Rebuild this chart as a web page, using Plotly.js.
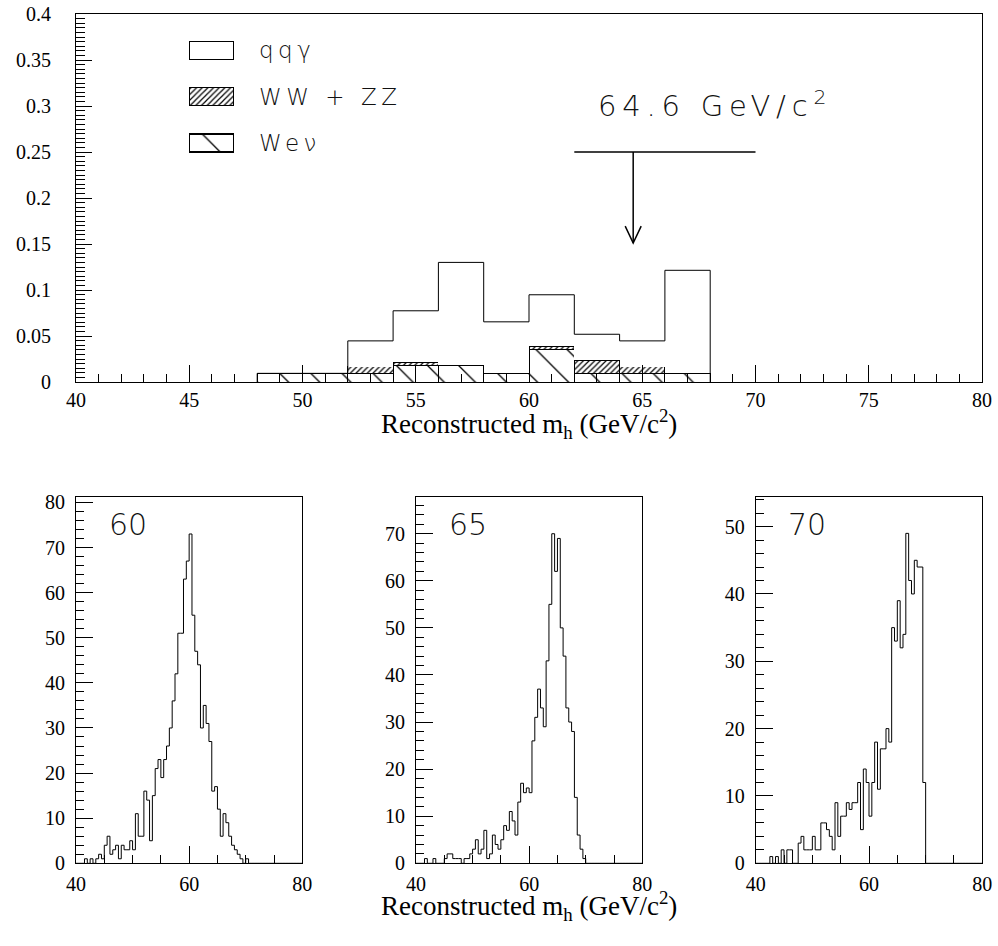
<!DOCTYPE html>
<html><head><meta charset="utf-8">
<script src="https://cdn.plot.ly/plotly-3.0.1.min.js"></script>
<style>
html,body{margin:0;padding:0;background:#fff}
.annotation[data-index="3"] text, .annotation[data-index="4"] text, .annotation[data-index="5"] text{letter-spacing:4.5px}
.annotation[data-index="6"] text{letter-spacing:5.8px}
</style>
</head><body>
<div id="chart" style="width:998px;height:946px"></div>
<script>
// ---------- top histogram (2 GeV/c^2 bins, lower edges) ----------
const topBinLow   = [48, 50, 52, 54, 56, 58, 60, 62, 64, 66];
const topBinWidth = 2;
const qqgamma = [0, 0, 0.028, 0.056, 0.112, 0.056, 0.056, 0.028, 0.028, 0.112];
const wwzz    = [0, 0, 0.0073, 0.0034, 0, 0, 0.004, 0.0145, 0.0073, 0];
const wenu    = [0.0094, 0.0094, 0.0094, 0.018, 0.018, 0.0094, 0.0348, 0.0094, 0.0094, 0.0094];
const seriesNames = ['qqγ', 'WW + ZZ', 'Weν'];
const cutMass = 64.6;
const cutLabel = '64.6 GeV/c<sup>2</sup>';

// ---------- bottom histograms (0.5 GeV/c^2 bins from 40 to 80) ----------
const histLow = 40, histBinWidth = 0.5;
const h60 = [0,0,0,1,0,1,0,1,2,1, 4,6,2,3,4,1,4,3,3,5, 3,11,6,6,16,14,5,15,21,23,
             19,23,26,30,36,42,51,51,63,67, 73,55,47,44,30,35,31,27,16,17,
             12,6,11,9,6,4,3,2,1,0, 1,0,0,0,0,0,0,0,0,0, 0,0,0,0,0,0,0,0,0,0];
const h65 = [0,0,0,1,0,0,1,0,0,0, 1,2,2,1,1,1,0,1,1,2, 3,5,2,3,7,1,2,6,4,3,
             5,8,7,11,9,6,13,17,15,16, 15,26,31,37,33,29,43,55,70,62,
             69,50,44,33,30,28,14,6,3,1, 0,0,0,0,0,0,0,0,0,0, 0,0,0,0,0,0,0,0,0,0];
const h70 = [0,0,0,0,0,1,0,1,0,2, 0,2,2,0,0,3,4,2,2,2, 4,2,2,6,6,5,4,2,9,4,
             7,7,9,8,9,9,12,5,14,12, 7,12,18,11,17,17,20,18,35,33,
             39,32,34,49,42,40,45,44,44,12, 0,0,0,0,0,0,0,0,0,0, 0,0,0,0,0,0,0,0,0,0];
const panelLabels = ['60', '65', '70'];
const panelYMax = [81.2, 77.8, 54.4];
const panelYTicks = [[0,10,20,30,40,50,60,70,80],[0,10,20,30,40,50,60,70],[0,10,20,30,40,50]];
const xTitle = 'Reconstructed m<sub>h</sub> (GeV/c<sup>2</sup>)';

// ---------- build traces ----------
const W = 998, H = 946;
const px = v => v / W, py = v => 1 - v / H;
const centers = topBinLow.map(v => v + topBinWidth / 2);
const widths = topBinLow.map(() => topBinWidth);
const black = '#000';
const wenuPattern = {shape: '\\', fgcolor: black, bgcolor: 'white', size: 22, solidity: 0.06};
const wwPattern   = {shape: '/', fgcolor: black, bgcolor: 'white', size: 4, solidity: 0.3};

const traces = [];
traces.push({type: 'bar', x: centers, y: wenu, width: widths, xaxis: 'x', yaxis: 'y', name: seriesNames[2],
  marker: {color: 'white', pattern: wenuPattern, line: {color: black, width: 1}}, showlegend: false, hoverinfo: 'skip'});
traces.push({type: 'bar', x: centers, y: wwzz, width: widths, xaxis: 'x', yaxis: 'y', name: seriesNames[1],
  marker: {color: 'white', pattern: wwPattern, line: {color: black, width: 1}}, showlegend: false, hoverinfo: 'skip'});
traces.push({type: 'bar', x: centers, y: qqgamma, width: widths, xaxis: 'x', yaxis: 'y', name: seriesNames[0],
  marker: {color: 'white', line: {width: 0}}, showlegend: false, hoverinfo: 'skip'});
// total outline as a step histogram
const totals = topBinLow.map((_, i) => qqgamma[i] + wwzz[i] + wenu[i]);
const stepX = [topBinLow[0]].concat(topBinLow, [topBinLow[topBinLow.length - 1] + topBinWidth]);
const stepY = [0].concat(totals, [0]);
traces.push({type: 'scatter', mode: 'lines', x: stepX, y: stepY, line: {shape: 'hv', color: black, width: 1},
  xaxis: 'x', yaxis: 'y', showlegend: false, hoverinfo: 'skip'});

// bottom histograms as step lines
[h60, h65, h70].forEach((h, k) => {
  const xs = h.map((_, i) => histLow + i * histBinWidth).concat([histLow + h.length * histBinWidth]);
  const ys = h.concat([0]);
  traces.push({type: 'scatter', mode: 'lines', x: xs, y: ys, line: {shape: 'hv', color: black, width: 1},
    xaxis: 'x' + (k + 2), yaxis: 'y' + (k + 2), showlegend: false, hoverinfo: 'skip'});
});

// legend swatches (bars on a hidden helper axis)
const legendMarkers = [
  {color: 'white', line: {color: black, width: 1.3}},
  {color: 'white', pattern: wwPattern, line: {color: black, width: 1.3}},
  {color: 'white', pattern: wenuPattern, line: {color: black, width: 1.3}}
];
seriesNames.forEach((n, i) => {
  traces.push({type: 'bar', orientation: 'h', y: [i], x: [1], base: 0, width: 0.39, name: n,
    marker: legendMarkers[i], xaxis: 'x5', yaxis: 'y5', showlegend: false, hoverinfo: 'skip'});
});

// ---------- layout ----------
const tickFont = {family: 'Liberation Serif, Times New Roman, serif', size: 20, color: black};
const pawFont = (s) => ({family: 'DejaVu Sans, sans-serif', weight: 200, size: s, color: '#111'});
const baseAxis = {showline: true, mirror: true, linecolor: black, linewidth: 1, ticks: 'inside',
  tickcolor: black, tickwidth: 1, showgrid: false, zeroline: false, tickfont: tickFont, fixedrange: true};

const layout = {
  width: W, height: H, margin: {l: 0, r: 0, t: 0, b: 0}, paper_bgcolor: 'white', plot_bgcolor: 'rgba(0,0,0,0)',
  barmode: 'stack', bargap: 0, showlegend: false,
  xaxis: Object.assign({}, baseAxis, {domain: [px(76), px(982)], range: [40, 80], anchor: 'y', dtick: 5, tick0: 40,
    ticklen: 17, minor: {dtick: 1, ticks: 'inside', ticklen: 8, tickcolor: black, showgrid: false}}),
  yaxis: Object.assign({}, baseAxis, {domain: [py(382), py(14)], range: [0, 0.4], anchor: 'x', dtick: 0.05, tick0: 0,
    ticklen: 16, ticklabelstandoff: 20, minor: {dtick: 0.005, ticks: 'inside', ticklen: 9, tickcolor: black, showgrid: false}}),
  xaxis5: {domain: [px(189), px(234)], range: [0, 1], anchor: 'y5', visible: false, fixedrange: true},
  yaxis5: {domain: [py(166.2), py(27.4)], range: [2.5, -0.5], anchor: 'x5', visible: false, fixedrange: true},
  annotations: [],
  shapes: []
};
const panelX = [[76, 302.3], [416, 642.3], [755.7, 982.3]];
for (let k = 0; k < 3; k++) {
  const xa = 'xaxis' + (k + 2), ya = 'yaxis' + (k + 2);
  layout[xa] = Object.assign({}, baseAxis, {domain: [px(panelX[k][0]), px(panelX[k][1])], range: [40, 80],
    anchor: 'y' + (k + 2), tickvals: [40, 60, 80], ticklen: 17, ticklabelstandoff: 3,
    minor: {dtick: 5, ticks: 'inside', ticklen: 8, tickcolor: black, showgrid: false}});
  layout[ya] = Object.assign({}, baseAxis, {domain: [py(863.3), py(497)], range: [0, panelYMax[k]],
    anchor: 'x' + (k + 2), tickvals: panelYTicks[k], ticklen: 17, ticklabelstandoff: 6,
    minor: {dtick: 2, ticks: 'inside', ticklen: 8, tickcolor: black, showgrid: false}});
  layout.annotations.push({xref: 'x' + (k + 2) + ' domain', yref: 'y' + (k + 2) + ' domain', x: 0.135, y: 0.925,
    xanchor: 'left', yanchor: 'middle', text: panelLabels[k], showarrow: false, font: pawFont(30)});
}
// legend labels
const legendRowY = [50.5, 96.7, 143];
seriesNames.forEach((n, i) => {
  layout.annotations.push({xref: 'paper', yref: 'paper', x: px(257), y: py(legendRowY[i]), xanchor: 'left', align: 'left',
    yanchor: 'middle', text: n, showarrow: false, font: pawFont(23)});
});
// cut marker
layout.annotations.push({xref: 'x', yref: 'y', x: 62.95, y: 0.302, xanchor: 'left', align: 'left', yanchor: 'middle',
  text: cutLabel, showarrow: false, font: pawFont(29)});
layout.shapes.push({type: 'line', xref: 'x', yref: 'y', x0: 62, x1: 70, y0: 0.25, y1: 0.25, line: {color: black, width: 1.5}});
layout.shapes.push({type: 'line', xref: 'x', yref: 'y', x0: cutMass, x1: cutMass, y0: 0.25, y1: 0.151, line: {color: black, width: 1.5}});
layout.shapes.push({type: 'path', xref: 'x', yref: 'y', xsizemode: 'pixel', ysizemode: 'pixel', xanchor: cutMass, yanchor: 0.151,
  path: 'M -8,17 L 0,0 L 8,17', line: {color: black, width: 1.5}});
// axis titles
layout.annotations.push({xref: 'paper', yref: 'paper', x: px(529), y: py(424), xanchor: 'center', yanchor: 'middle',
  text: xTitle, showarrow: false, font: {family: 'Liberation Serif, Times New Roman, serif', size: 27, color: black}});
layout.annotations.push({xref: 'paper', yref: 'paper', x: px(529), y: py(906), xanchor: 'center', yanchor: 'middle',
  text: xTitle, showarrow: false, font: {family: 'Liberation Serif, Times New Roman, serif', size: 27, color: black}});

Plotly.newPlot('chart', traces, layout, {staticPlot: true, displayModeBar: false});
</script>
</body></html>
